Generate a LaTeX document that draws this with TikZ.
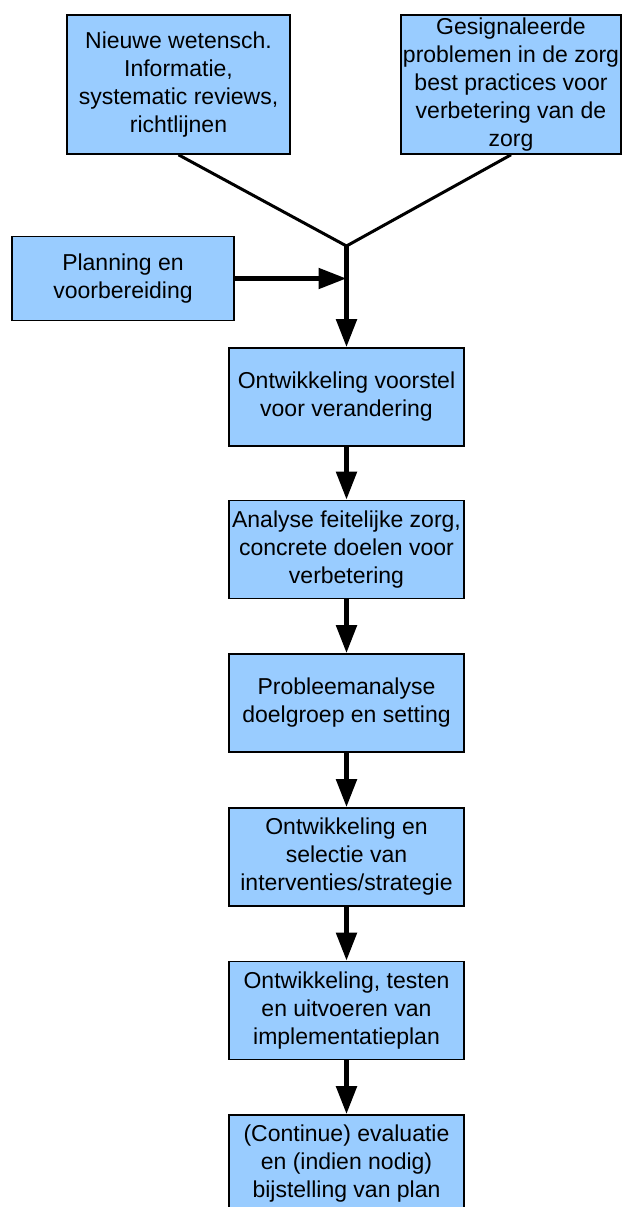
\documentclass[tikz,border=0pt]{standalone}
\usepackage{fontspec}
\setmainfont{Liberation Sans}
\usetikzlibrary{arrows.meta}
\definecolor{boxblue}{RGB}{153,204,255}
\begin{document}
\begin{tikzpicture}[x=1pt,y=-1pt,
  box/.style={draw=black, line width=1.6pt, fill=boxblue, rectangle, inner sep=0pt, align=center,
    font=\fontsize{23}{28}\selectfont},
  colbox/.style={box, minimum width=235pt, minimum height=98pt},
  feed/.style={line width=3pt},
  flow/.style={line width=5pt, -{Triangle[length=28pt,width=20pt]}},
]
\useasboundingbox (0,0) rectangle (622,1207);
\node[box, minimum width=223pt, minimum height=139pt] (A) at (178.5,84.5)
  {Nieuwe wetensch.\\Informatie,\\systematic reviews,\\richtlijnen};
\node[box, minimum width=220pt, minimum height=139pt] (B) at (511,84.5)
  {Gesignaleerde\\problemen in de zorg\\best practices voor\\verbetering van de\\zorg};
\node[box, minimum width=222pt, minimum height=84pt] (P) at (123,278.5)
  {Planning en\\voorbereiding};
\coordinate (J) at (346.5,246);
\coordinate (Pin) at (346.5,278.5);
\node[colbox] (C) at (346.5,397) {Ontwikkeling voorstel\\voor verandering};
\node[colbox] (D) at (346.5,549.5) {Analyse feitelijke zorg,\\concrete doelen voor\\verbetering};
\node[colbox] (E) at (346.5,703) {Probleemanalyse\\doelgroep en setting};
\node[colbox] (F) at (346.5,857) {Ontwikkeling en\\selectie van\\interventies/strategie};
\node[colbox] (G) at (346.5,1010.5) {Ontwikkeling, testen\\en uitvoeren van\\implementatieplan};
\node[colbox] (H) at (346.5,1164) {(Continue) evaluatie\\en (indien nodig)\\bijstelling van plan};
\draw[feed] (A.south) -- (J);
\draw[feed] (B.south) -- (J);
\draw[flow] (P.east) -- (Pin);
\draw[flow] (J) -- (C.north);
\draw[flow] (C.south) -- (D.north);
\draw[flow] (D.south) -- (E.north);
\draw[flow] (E.south) -- (F.north);
\draw[flow] (F.south) -- (G.north);
\draw[flow] (G.south) -- (H.north);
\end{tikzpicture}
\end{document}
